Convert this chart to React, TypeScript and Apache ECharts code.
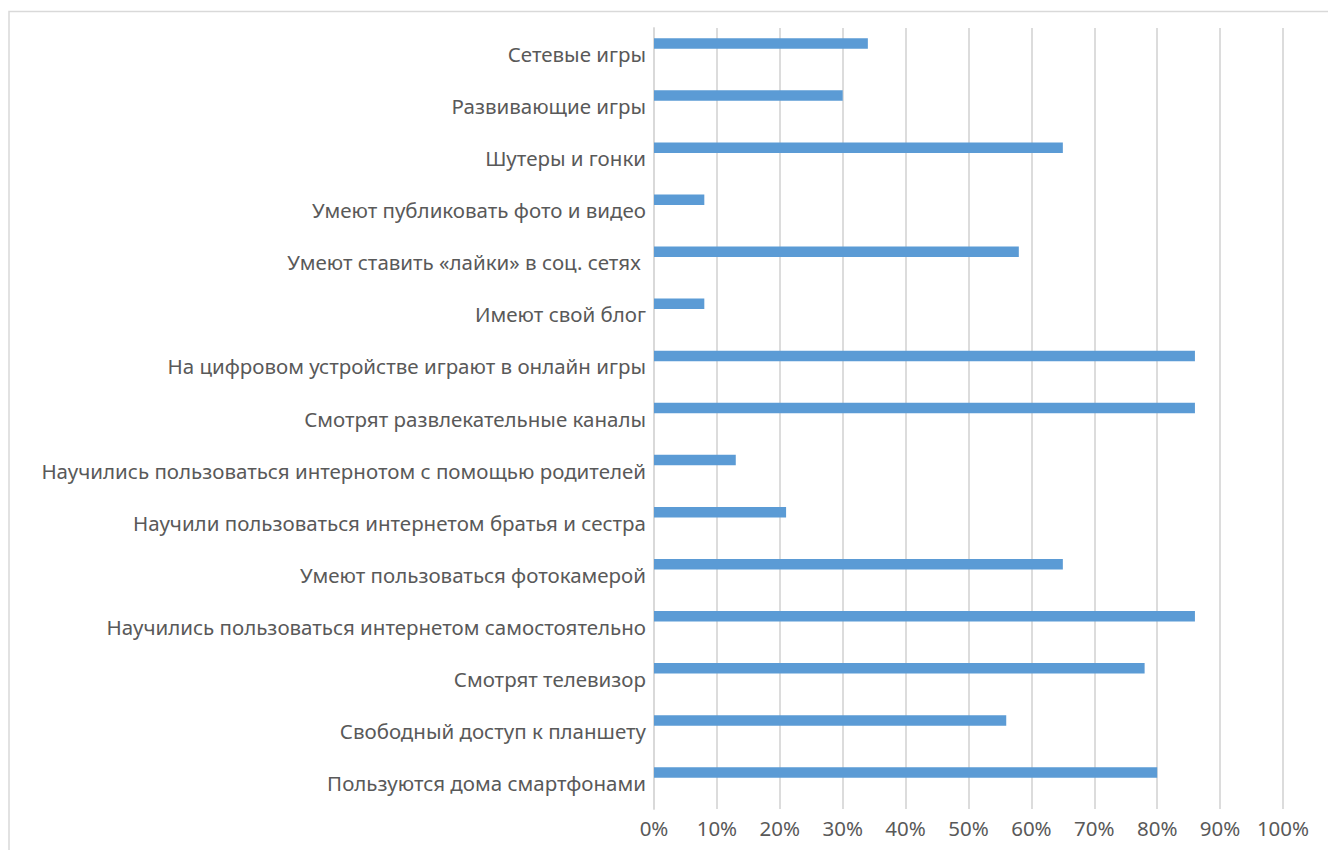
import React, { useEffect, useRef } from "react";
import * as echarts from "echarts";

const categories = [
  "Пользуются дома смартфонами",
  "Свободный доступ к планшету",
  "Смотрят телевизор",
  "Научились пользоваться интернетом самостоятельно",
  "Умеют пользоваться фотокамерой",
  "Научили пользоваться интернетом братья и сестра",
  "Научились пользоваться интернотом с помощью родителей",
  "Смотрят развлекательные каналы",
  "На цифровом устройстве играют в онлайн игры",
  "Имеют свой блог",
  "Умеют ставить «лайки» в соц. сетях ",
  "Умеют публиковать фото и видео",
  "Шутеры и гонки",
  "Развивающие игры",
  "Сетевые игры",
];

const values = [80, 56, 78, 86, 65, 21, 13, 86, 86, 8, 58, 8, 65, 30, 34];
const emptyValues: (number | null)[] = categories.map(() => null);

const FONT = "'Noto Sans', 'Open Sans', sans-serif";

export default function App() {
  const ref = useRef<HTMLDivElement>(null);
  useEffect(() => {
    if (!ref.current) return;
    const chart = echarts.init(ref.current, undefined, { renderer: "svg" });
    chart.setOption({
      animation: false,
      backgroundColor: "#ffffff",
      graphic: [
        {
          type: "rect",
          shape: { x: 9, y: 11.5, width: 1400, height: 900 },
          style: { fill: "none", stroke: "#d9d9d9", lineWidth: 1.5 },
          silent: true,
          z: -1,
        },
      ],
      grid: { left: 654, right: 45, top: 28, bottom: 41, containLabel: false },
      xAxis: {
        type: "value",
        min: 0,
        max: 100,
        interval: 10,
        axisLine: { show: false },
        axisTick: { show: false },
        splitLine: { show: true, lineStyle: { color: "#d9d9d9", width: 1.8 } },
        axisLabel: {
          formatter: (v: number) => v + "%",
          color: "#595959",
          fontSize: 20.5,
          fontFamily: FONT,
          margin: 8,
        },
      },
      yAxis: {
        type: "category",
        data: categories,
        axisLine: { show: true, lineStyle: { color: "#d9d9d9", width: 1.8 } },
        axisTick: { show: false },
        axisLabel: {
          color: "#595959",
          fontSize: 20.5,
          fontFamily: FONT,
          margin: 8,
        },
      },
      series: [
        {
          name: "values",
          type: "bar",
          data: values,
          barWidth: 10.5,
          barGap: "0%",
          itemStyle: { color: "#5b9bd5" },
        },
        {
          name: "empty1",
          type: "bar",
          data: emptyValues,
          barWidth: 10.5,
          barGap: "0%",
          itemStyle: { color: "#5b9bd5" },
        },
        {
          name: "empty2",
          type: "bar",
          data: emptyValues,
          barWidth: 10.5,
          barGap: "0%",
          itemStyle: { color: "#5b9bd5" },
        },
      ],
    });
    return () => chart.dispose();
  }, []);
  return (
    <div
      ref={ref}
      style={{ position: "fixed", left: 0, top: 0, width: 1328, height: 850 }}
    />
  );
}
